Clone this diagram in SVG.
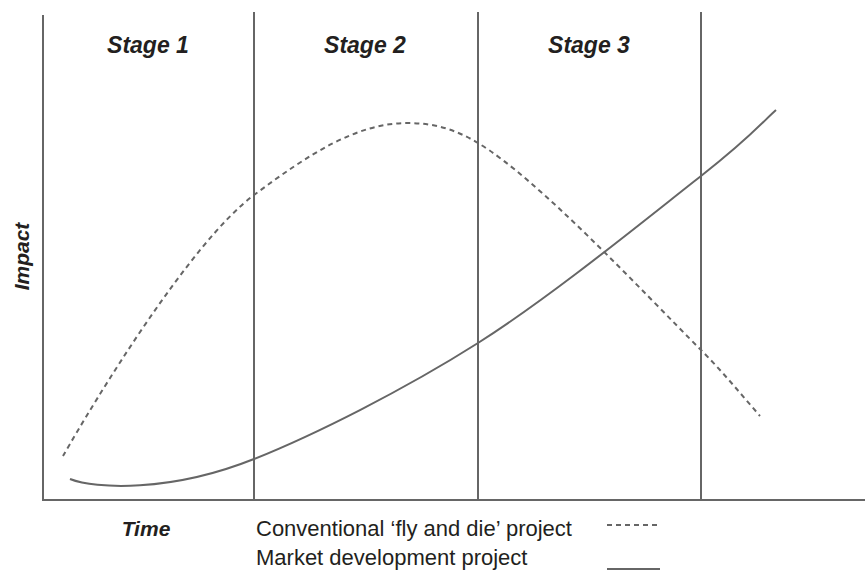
<svg xmlns="http://www.w3.org/2000/svg" width="865" height="571" viewBox="0 0 865 571">
<style>
.ax{stroke:#666;stroke-width:2;fill:none}
.solid{stroke:#666;stroke-width:2;fill:none}
.dash{stroke:#666;stroke-width:2;fill:none;stroke-dasharray:5 4}
.bi{font-family:"Liberation Sans",Arial,sans-serif;font-weight:bold;font-style:italic;font-size:21px;fill:#231f20}
.st{font-size:23px}
.rg{font-family:"Liberation Sans",Arial,sans-serif;font-size:22px;fill:#231f20}
</style>
<rect width="865" height="571" fill="#fff"/>
<g id="axes">
<line class="ax" x1="43" y1="15" x2="43" y2="500"/>
<line class="ax" x1="42" y1="500" x2="865" y2="500"/>
</g>
<g id="stage-dividers">
<line class="ax" x1="254" y1="12" x2="254" y2="500"/>
<line class="ax" x1="478" y1="12" x2="478" y2="500"/>
<line class="ax" x1="701" y1="12" x2="701" y2="500"/>
</g>
<g id="stage1"><text class="bi st" x="148" y="53" text-anchor="middle">Stage 1</text></g>
<g id="stage2"><text class="bi st" x="365" y="53" text-anchor="middle">Stage 2</text></g>
<g id="stage3"><text class="bi st" x="589" y="53" text-anchor="middle">Stage 3</text></g>
<g id="impact"><text class="bi" transform="translate(29,256.5) rotate(-90)" text-anchor="middle">Impact</text></g>
<g id="time"><text class="bi" x="146" y="536" text-anchor="middle">Time</text></g>
<g id="connectors">
<path id="fly-and-die" class="dash" d="M63,456 C95,400 190,243 254,195 C309,154 357,123 407,123 C432,123 453,128 478,143 C538,179 641,290 701,350 C721,370 740,393 760,416"/>
<path id="market-development" class="solid" d="M70,479 C95,489 170,492.6 254,459 C313.7,435.2 403.5,390.2 478,343 C552.5,295.8 651.3,214.8 701,176 C750.7,137.2 763.5,121 776,110"/>
</g>
<g id="legend">
<text class="rg" x="256" y="536">Conventional ‘fly and die’ project</text>
<line class="dash" x1="607" y1="525" x2="660" y2="525"/>
<text class="rg" x="256" y="565">Market development project</text>
<line class="solid" x1="607" y1="569" x2="660" y2="569"/>
</g>
</svg>
